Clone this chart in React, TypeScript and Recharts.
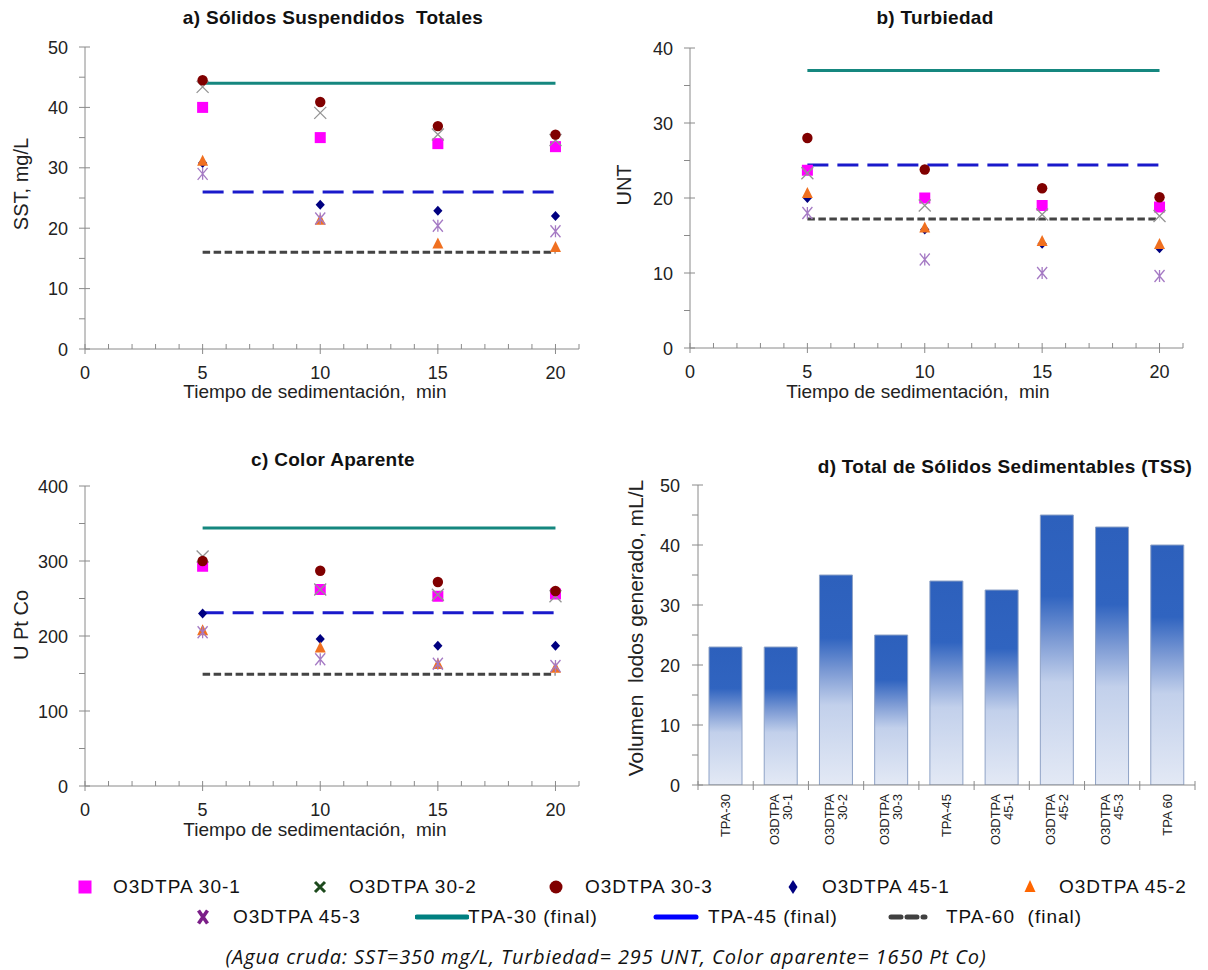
import React from 'react';
import { ComposedChart, BarChart, Bar, Scatter, Line, XAxis, YAxis } from 'recharts';

// ---------- data ----------
const times = [5, 10, 15, 20];
const finalSpan = [5, 20];

// a) SST, mg/L
const sst301 = [40, 35, 34, 33.5];
const sst302 = [43.4, 39.1, 35.5, 34.6];
const sst303 = [44.5, 40.9, 36.9, 35.5];
const sst451 = [30.8, 23.9, 22.9, 22];
const sst452 = [31.1, 21.3, 17.4, 16.8];
const sst453 = [29, 21.6, 20.4, 19.5];
const sstFinals = [44, 26, 16];

// b) Turbiedad, UNT
const ntu301 = [23.7, 20, 19, 18.8];
const ntu302 = [23.3, 19, 17.8, 17.6];
const ntu303 = [28, 23.8, 21.3, 20.1];
const ntu451 = [20, 15.8, 13.9, 13.3];
const ntu452 = [20.6, 16, 14.2, 13.8];
const ntu453 = [18, 11.8, 10, 9.6];
const ntuFinals = [37, 24.4, 17.2];

// c) Color aparente, U Pt Co
const col301 = [293, 262, 253, 256];
const col302 = [306, 262, 255, 253];
const col303 = [300, 287, 272, 260];
const col451 = [230, 196, 187, 187];
const col452 = [207, 184, 162, 157];
const col453 = [205, 169, 163, 160];
const colFinals = [344, 231, 149];

// d) TSS, mL/L
const tssCategories = ['TPA-30', 'O3DTPA 30-1', 'O3DTPA 30-2', 'O3DTPA 30-3', 'TPA-45', 'O3DTPA 45-1', 'O3DTPA 45-2', 'O3DTPA 45-3', 'TPA 60'];
const tssValues = [23, 23, 35, 25, 34, 32.5, 45, 43, 40];

// ticks
const xTicks = [0, 1, 2, 3, 4, 5, 6, 7, 8, 9, 10, 11, 12, 13, 14, 15, 16, 17, 18, 19, 20, 21];
const xLabels = [0, 5, 10, 15, 20];
const sstTicks = [0, 5, 10, 15, 20, 25, 30, 35, 40, 45, 50];
const sstLabels = [0, 10, 20, 30, 40, 50];
const ntuTicks = [0, 5, 10, 15, 20, 25, 30, 35, 40];
const ntuLabels = [0, 10, 20, 30, 40];
const colTicks = [0, 50, 100, 150, 200, 250, 300, 350, 400];
const colLabels = [0, 100, 200, 300, 400];
const tssTicks = [0, 5, 10, 15, 20, 25, 30, 35, 40, 45, 50];
const tssLabels = [0, 10, 20, 30, 40, 50];

// ---------- styles ----------
const FONT = '"Liberation Sans", Arial, Helvetica, sans-serif';
const AXIS = '#8a8a8a';
const TXT = '#222';

const pts = (ys: number[]) => times.map((t, i) => ({ x: t, y: ys[i] }));
const flat = (v: number) => finalSpan.map((x) => ({ x, y: v }));

// ---------- markers ----------
const SquareM = (p: any) => <rect x={p.cx - 5.5} y={p.cy - 5.5} width={11} height={11} fill="#ff00ff" />;
const CrossM = (p: any) => (
  <path d={`M${p.cx - 6},${p.cy - 6}L${p.cx + 6},${p.cy + 6}M${p.cx - 6},${p.cy + 6}L${p.cx + 6},${p.cy - 6}`} stroke="#949494" strokeWidth={1.3} fill="none" />
);
const CircleM = (p: any) => <circle cx={p.cx} cy={p.cy} r={5.2} fill="#800000" />;
const DiamondM = (p: any) => (
  <polygon points={`${p.cx},${p.cy - 5} ${p.cx + 4.6},${p.cy} ${p.cx},${p.cy + 5} ${p.cx - 4.6},${p.cy}`} fill="#000080" />
);
const TriM = (p: any) => (
  <polygon points={`${p.cx},${p.cy - 6.5} ${p.cx + 5.5},${p.cy + 4.5} ${p.cx - 5.5},${p.cy + 4.5}`} fill="#f07020" />
);
const StarM = (p: any) => (
  <path d={`M${p.cx - 5},${p.cy - 6}L${p.cx + 5},${p.cy + 6}M${p.cx - 5},${p.cy + 6}L${p.cx + 5},${p.cy - 6}M${p.cx},${p.cy - 6}L${p.cx},${p.cy + 6}`} stroke="#a57ac4" strokeWidth={1.3} fill="none" />
);

// ---------- ticks ----------
const makeYTick = (labels: number[], gap: number) => (props: any) => {
  const { x, y, payload } = props;
  const v = payload.value;
  const major = labels.includes(v);
  return (
    <g>
      <line x1={x - 6} x2={major ? x + 5 : x} y1={y} y2={y} stroke={AXIS} strokeWidth={1} />
      {major && (
        <text x={x - gap} y={y + 6.5} textAnchor="end" fontSize={18} fill={TXT} fontFamily={FONT}>
          {v}
        </text>
      )}
    </g>
  );
};

const makeXTick = (labels: number[]) => (props: any) => {
  const { x, y, payload } = props;
  const v = payload.value;
  const major = labels.includes(v);
  return (
    <g>
      <line x1={x} x2={x} y1={y - 5} y2={major ? y + 5 : y} stroke={AXIS} strokeWidth={1} />
      {major && (
        <text x={x} y={y + 30} textAnchor="middle" fontSize={18} fill={TXT} fontFamily={FONT}>
          {v}
        </text>
      )}
    </g>
  );
};

// ---------- scatter panel ----------
type Box = { l: number; r: number; t: number; b: number };

function ScatterPanel(props: {
  left: number; top: number; width: number; height: number; plot: Box;
  yMax: number; yTicks: number[]; yLabels: number[];
  s: number[][]; finals: number[];
}) {
  const { left, top, width, height, plot, yMax, yTicks, yLabels, s, finals } = props;
  const xAxisH = 40;
  const margin = { top: plot.t - top, left: 0, right: left + width - plot.r, bottom: top + height - plot.b - xAxisH };
  return (
    <div style={{ position: 'absolute', left, top, width, height }}>
      <ComposedChart width={width} height={height} margin={margin}>
        <XAxis
          type="number" dataKey="x" domain={[0, 21]} ticks={xTicks} interval={0}
          height={xAxisH} tickSize={0} tickMargin={0} tickLine={false}
          axisLine={{ stroke: AXIS }} tick={makeXTick(xLabels)} allowDataOverflow
        />
        <YAxis
          type="number" dataKey="y" domain={[0, yMax]} ticks={yTicks} interval={0}
          width={plot.l - left} tickSize={0} tickMargin={0} tickLine={false}
          axisLine={{ stroke: AXIS }} tick={makeYTick(yLabels, 17)} allowDataOverflow
        />
        <Line data={flat(finals[0])} dataKey="y" type="linear" stroke="#15877f" strokeWidth={3} dot={false} activeDot={false} isAnimationActive={false} />
        <Line data={flat(finals[1])} dataKey="y" type="linear" stroke="#1a1acb" strokeWidth={3} strokeDasharray="21 9" dot={false} activeDot={false} isAnimationActive={false} />
        <Line data={flat(finals[2])} dataKey="y" type="linear" stroke="#444444" strokeWidth={3} strokeDasharray="7.5 3.5" dot={false} activeDot={false} isAnimationActive={false} />
        <Scatter data={pts(s[0])} dataKey="y" shape={SquareM} isAnimationActive={false} />
        <Scatter data={pts(s[1])} dataKey="y" shape={CrossM} isAnimationActive={false} />
        <Scatter data={pts(s[2])} dataKey="y" shape={CircleM} isAnimationActive={false} />
        <Scatter data={pts(s[3])} dataKey="y" shape={DiamondM} isAnimationActive={false} />
        <Scatter data={pts(s[4])} dataKey="y" shape={TriM} isAnimationActive={false} />
        <Scatter data={pts(s[5])} dataKey="y" shape={StarM} isAnimationActive={false} />
      </ComposedChart>
    </div>
  );
}

// ---------- bar panel ----------
const D_PLOT: Box = { l: 698, r: 1195, t: 485, b: 785 };
const band = (D_PLOT.r - D_PLOT.l) / tssCategories.length;

const BarXTick = (props: any) => {
  const { x, y, payload, index } = props;
  const label: string = payload.value;
  const lines = label.startsWith('O3DTPA ') ? ['O3DTPA', label.slice(7)] : [label];
  const n = lines.length;
  return (
    <g>
      <line x1={x - band / 2} x2={x - band / 2} y1={y - 4} y2={y + 5} stroke={AXIS} />
      {index === tssCategories.length - 1 && (
        <line x1={x + band / 2} x2={x + band / 2} y1={y - 4} y2={y + 5} stroke={AXIS} />
      )}
      <g transform={`translate(${x},${y + 9}) rotate(-90)`}>
        {lines.map((ln, i) => (
          <text key={i} x={0} y={(i - (n - 1) / 2) * 13 + 4.5} textAnchor="end" fontSize={13} fill={TXT} fontFamily={FONT}>
            {ln}
          </text>
        ))}
      </g>
    </g>
  );
};

function BarPanel() {
  const left = 600, top = 440, width = 608, height = 430;
  const xAxisH = 70;
  const margin = { top: D_PLOT.t - top, left: 0, right: left + width - D_PLOT.r, bottom: top + height - D_PLOT.b - xAxisH };
  const data = tssCategories.map((c, i) => ({ name: c, v: tssValues[i] }));
  return (
    <div style={{ position: 'absolute', left, top, width, height }}>
      <BarChart width={width} height={height} margin={margin} data={data} barSize={33}>
        <defs>
          <linearGradient id="tssGrad" x1="0" y1="0" x2="0" y2="1">
            <stop offset="0%" stopColor="#2d60bc" />
            <stop offset="30%" stopColor="#3064c0" />
            <stop offset="46%" stopColor="#7c9ad4" />
            <stop offset="62%" stopColor="#c2d0eb" />
            <stop offset="100%" stopColor="#e3e9f5" />
          </linearGradient>
        </defs>
        <XAxis
          dataKey="name" type="category" interval={0} height={xAxisH}
          tickSize={0} tickMargin={0} tickLine={false} axisLine={{ stroke: AXIS }} tick={BarXTick}
        />
        <YAxis
          type="number" domain={[0, 50]} ticks={tssTicks} interval={0}
          width={D_PLOT.l - left} tickSize={0} tickMargin={0} tickLine={false}
          axisLine={{ stroke: AXIS }} tick={makeYTick(tssLabels, 18)} allowDataOverflow
        />
        <Bar dataKey="v" fill="url(#tssGrad)" stroke="#8ea2c6" strokeWidth={1} isAnimationActive={false} />
      </BarChart>
    </div>
  );
}

// ---------- text helpers ----------
const Title = ({ x, y, children }: any) => (
  <div style={{ position: 'absolute', left: x, top: y, transform: 'translate(-50%,-50%)', whiteSpace: 'pre', fontFamily: FONT, fontWeight: 'bold', fontSize: 19, letterSpacing: 0.3, color: '#111' }}>
    {children}
  </div>
);
const HText = ({ x, y, size = 19, children }: any) => (
  <div style={{ position: 'absolute', left: x, top: y, transform: 'translate(-50%,-50%)', whiteSpace: 'pre', fontFamily: FONT, fontSize: size, color: TXT }}>
    {children}
  </div>
);
const VText = ({ x, y, size = 20, children }: any) => (
  <div style={{ position: 'absolute', left: x, top: y, transform: 'translate(-50%,-50%) rotate(-90deg)', whiteSpace: 'pre', fontFamily: FONT, fontSize: size, color: TXT }}>
    {children}
  </div>
);

// ---------- legend ----------
const LegText = ({ x, y, children }: any) => (
  <div style={{ position: 'absolute', left: x, top: y, transform: 'translateY(-50%)', whiteSpace: 'pre', fontFamily: FONT, fontSize: 19, letterSpacing: 1, color: '#111' }}>
    {children}
  </div>
);
const LegIcon = ({ x, y, w = 20, h = 20, children }: any) => (
  <svg style={{ position: 'absolute', left: x - w / 2, top: y - h / 2 }} width={w} height={h} viewBox={`${-w / 2} ${-h / 2} ${w} ${h}`}>
    {children}
  </svg>
);

function LegendBlock() {
  const r1 = 887, r2 = 917;
  return (
    <>
      <LegIcon x={85} y={r1}><rect x={-6.5} y={-6.5} width={13} height={13} fill="#ff00ff" /></LegIcon>
      <LegText x={113} y={r1}>O3DTPA 30-1</LegText>
      <LegIcon x={320} y={r1}><path d="M-5,-5L5,5M-5,5L5,-5" stroke="#1d4a1d" strokeWidth={3} /></LegIcon>
      <LegText x={349} y={r1}>O3DTPA 30-2</LegText>
      <LegIcon x={556} y={r1}><circle r={6.5} fill="#800000" /></LegIcon>
      <LegText x={585} y={r1}>O3DTPA 30-3</LegText>
      <LegIcon x={793} y={r1}><polygon points="0,-7 4.5,0 0,7 -4.5,0" fill="#000080" /></LegIcon>
      <LegText x={822} y={r1}>O3DTPA 45-1</LegText>
      <LegIcon x={1030} y={r1}><polygon points="0,-7 5.5,5 -5.5,5" fill="#ff6600" /></LegIcon>
      <LegText x={1059} y={r1}>O3DTPA 45-2</LegText>

      <LegIcon x={203} y={r2}><path d="M-4.5,-6.5L4.5,6.5M-4.5,6.5L4.5,-6.5M-1.5,0L1.5,0" stroke="#7b1f88" strokeWidth={3.6} /></LegIcon>
      <LegText x={233} y={r2}>O3DTPA 45-3</LegText>
      <LegIcon x={442} y={r2} w={54} h={10}><line x1={-25} x2={25} y1={0} y2={0} stroke="#008080" strokeWidth={5} strokeLinecap="round" /></LegIcon>
      <LegText x={468} y={r2}>TPA-30 (final)</LegText>
      <LegIcon x={676} y={r2} w={46} h={10}><line x1={-20} x2={20} y1={0} y2={0} stroke="#0000ff" strokeWidth={5} strokeLinecap="round" /></LegIcon>
      <LegText x={708} y={r2}>TPA-45 (final)</LegText>
      <LegIcon x={917} y={r2} w={58} h={10}>
        <path d="M-26,0L-16,0M-10,0L0,0M6,0L8,0" stroke="#404040" strokeWidth={5} strokeLinecap="round" />
      </LegIcon>
      <LegText x={946} y={r2}>TPA-60  (final)</LegText>

      <div style={{ position: 'absolute', left: 606, top: 956, transform: 'translate(-50%,-50%)', whiteSpace: 'pre', fontFamily: '"Open Sans", "Noto Sans", sans-serif', fontStyle: 'italic', fontSize: 20, letterSpacing: 0.9, color: '#111' }}>
        (Agua cruda: SST=350 mg/L, Turbiedad= 295 UNT, Color aparente= 1650 Pt Co)
      </div>
    </>
  );
}

export default function App() {
  return (
    <div style={{ position: 'absolute', left: 0, top: 0, width: 1208, height: 970, background: '#fff', overflow: 'hidden' }}>
      <Title x={333} y={18}>a) Sólidos Suspendidos  Totales</Title>
      <Title x={935} y={18}>b) Turbiedad</Title>
      <Title x={333} y={460}>c) Color Aparente</Title>
      <Title x={1005} y={467}>d) Total de Sólidos Sedimentables (TSS)</Title>

      <ScatterPanel left={0} top={0} width={600} height={430} plot={{ l: 85, r: 579, t: 47, b: 349 }}
        yMax={50} yTicks={sstTicks} yLabels={sstLabels}
        s={[sst301, sst302, sst303, sst451, sst452, sst453]} finals={sstFinals} />
      <ScatterPanel left={600} top={0} width={608} height={430} plot={{ l: 690, r: 1183, t: 48, b: 348 }}
        yMax={40} yTicks={ntuTicks} yLabels={ntuLabels}
        s={[ntu301, ntu302, ntu303, ntu451, ntu452, ntu453]} finals={ntuFinals} />
      <ScatterPanel left={0} top={440} width={600} height={430} plot={{ l: 85, r: 579, t: 486, b: 786 }}
        yMax={400} yTicks={colTicks} yLabels={colLabels}
        s={[col301, col302, col303, col451, col452, col453]} finals={colFinals} />
      <BarPanel />

      <VText x={21} y={184}>SST, mg/L</VText>
      <VText x={624} y={185}>UNT</VText>
      <VText x={21} y={625}>U Pt Co</VText>
      <VText x={636} y={628} size={21}>Volumen  lodos generado, mL/L</VText>

      <HText x={315} y={392}>Tiempo de sedimentación,  min</HText>
      <HText x={918} y={392}>Tiempo de sedimentación,  min</HText>
      <HText x={315} y={830}>Tiempo de sedimentación,  min</HText>

      <LegendBlock />
    </div>
  );
}
